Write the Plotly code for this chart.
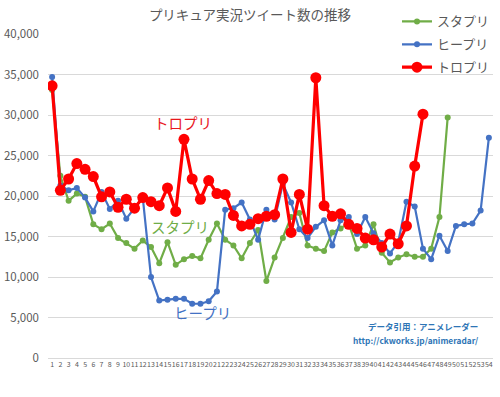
import plotly.graph_objects as go

episodes = list(range(1, 55))

star_twinkle = [33100, 22500, 19400, 20300, 19900, 16500, 15900, 16600, 14800, 14200,
                13500, 14500, 13700, 11700, 14300, 11500, 12200, 12600, 12300, 14600,
                16600, 14600, 13900, 12300, 14200, 15800, 9500, 12400, 14800, 17400,
                17900, 13900, 13500, 13200, 15500, 16000, 16600, 13500, 13900, 16500,
                13000, 11800, 12400, 12800, 12500, 12500, 13500, 17400, 29700]

healin_good = [34700, 21300, 20700, 21000, 19800, 18100, 20500, 18400, 19400, 17200,
               18500, 19800, 10000, 7100, 7200, 7300, 7300, 6700, 6700, 7000,
               8200, 18300, 18500, 19200, 17100, 14600, 18300, 17100, 21500, 19200,
               15900, 14800, 16200, 17000, 13900, 17000, 17400, 15300, 17400, 15400,
               14200, 12900, 14300, 19300, 18700, 13500, 12200, 15100, 13200, 16300,
               16500, 16600, 18200, 27200]

tropical_rouge = [33600, 20700, 22100, 24000, 23300, 22400, 19900, 20500, 18600, 19600,
                  18500, 19800, 19300, 18800, 21000, 18100, 27000, 22100, 19600, 21900,
                  20300, 20200, 17600, 16300, 16500, 17200, 17500, 17700, 22100, 15500,
                  20200, 15900, 34600, 18800, 17500, 17800, 16500, 16000, 14800, 14600,
                  13700, 15300, 14100, 16300, 23700, 30100]

names = ["スタプリ", "ヒープリ", "トロプリ"]
y_ticks = [0, 5000, 10000, 15000, 20000, 25000, 30000, 35000, 40000]

FONT = "Noto Sans CJK JP"
GREEN = "#70ad47"
BLUE = "#4472c4"
RED = "#ff0000"

fig = go.Figure()
fig.add_trace(go.Scatter(x=episodes[:len(star_twinkle)], y=star_twinkle, name=names[0],
                         legendgroup="a", mode="lines+markers", line=dict(color=GREEN, width=2.2),
                         marker=dict(color=GREEN, size=6)))
fig.add_trace(go.Scatter(x=episodes[:len(healin_good)], y=healin_good, name=names[1],
                         legendgroup="b", mode="lines+markers", line=dict(color=BLUE, width=2.2),
                         marker=dict(color=BLUE, size=6)))
fig.add_trace(go.Scatter(x=episodes[:len(tropical_rouge)], y=tropical_rouge, name=names[2],
                         legendgroup="c", mode="lines+markers", line=dict(color=RED, width=3.2),
                         marker=dict(color=RED, size=11)))

fig.update_layout(
    width=500, height=397,
    margin=dict(l=48, r=6, t=34, b=39),
    paper_bgcolor="white", plot_bgcolor="white",
    font=dict(family=FONT, color="#595959"),
    title=dict(text="プリキュア実況ツイート数の推移", x=0.5, xanchor="center",
               y=0.962, yanchor="middle", font=dict(size=13.5, color="#595959")),
    showlegend=True,
    legend=dict(x=0.7825, xanchor="left", y=1.085, yanchor="top",
                bgcolor="rgba(0,0,0,0)", font=dict(size=13, color="#595959"),
                itemwidth=30, traceorder="grouped", tracegroupgap=3),
    xaxis=dict(range=[0.5, 54.5], tickmode="array", tickvals=episodes,
               ticktext=[str(e) for e in episodes], tickangle=0, automargin=False,
               tickfont=dict(size=7, color="#595959"), showgrid=False,
               showline=True, linecolor="#d9d9d9", linewidth=1, ticks="", zeroline=False),
    yaxis=dict(range=[0, 40000], tickmode="array", tickvals=y_ticks, automargin=False,
               ticktext=[f"{v:,}" for v in y_ticks], tickfont=dict(size=11.5, color="#595959"),
               showgrid=True, gridcolor="#d9d9d9", gridwidth=1, zeroline=False,
               showline=False, ticks="", ticklabelstandoff=8),
)

fig.add_annotation(x=16.88, y=29070, xref="x", yref="y", text="トロプリ", showarrow=False,
                   font=dict(size=14.5, color="#e8171d", family=FONT))
fig.add_annotation(x=16.5, y=16200, xref="x", yref="y", text="スタプリ", showarrow=False,
                   font=dict(size=14.5, color=GREEN, family=FONT))
fig.add_annotation(x=19.24, y=5650, xref="x", yref="y", text="ヒープリ", showarrow=False,
                   font=dict(size=14.5, color=BLUE, family=FONT))
fig.add_annotation(x=0.97, y=0.099, xref="paper", yref="paper", xanchor="right", yanchor="middle",
                   text="<b>データ引用：アニメレーダー</b>", showarrow=False,
                   font=dict(size=8.5, color="#2e75b6", family=FONT))
fig.add_annotation(x=0.97, y=0.055, xref="paper", yref="paper", xanchor="right", yanchor="middle",
                   text="<b>http://ckworks.jp/animeradar/</b>", showarrow=False,
                   font=dict(size=8.3, color="#2e75b6", family=FONT))

fig.write_html("out.html", config={"displayModeBar": False},
               post_script="document.body.style.margin='0';")
